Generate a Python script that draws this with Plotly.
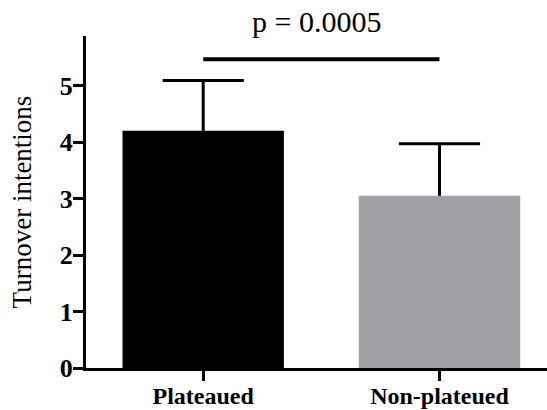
import plotly.graph_objects as go

categories = ["Plateaued", "Non-plateued"]
means = [4.2, 3.05]
errors_up = [0.89, 0.92]
bar_colors = ["#000000", "#a1a0a5"]
sig_y = 5.47
p_label = "p = 0.0005"
y_title = "Turnover intentions"
y_ticks = [0, 1, 2, 3, 4, 5]

FONT = "Liberation Serif, Times New Roman, serif"

fig = go.Figure()
fig.add_trace(go.Bar(
    x=categories, y=means,
    marker=dict(color=bar_colors, line=dict(width=0)),
    error_y=dict(type="data", symmetric=False, array=errors_up,
                 arrayminus=[0] * len(means),
                 color="black", thickness=3, width=0),
    showlegend=False,
))
# error bar caps
fig.add_trace(go.Scatter(
    x=categories, y=[m + e for m, e in zip(means, errors_up)],
    mode="markers",
    marker=dict(symbol="line-ew-open", size=58, color="black",
                line=dict(color="black", width=3)),
    showlegend=False, cliponaxis=False, hoverinfo="skip",
))
fig.add_trace(go.Scatter(
    x=categories, y=[sig_y] * len(categories),
    mode="lines", line=dict(color="black", width=4),
    showlegend=False, cliponaxis=False,
))
fig.add_annotation(
    x=0.48, y=sig_y, xref="x", yref="y",
    text=p_label, showarrow=False, yanchor="bottom", yshift=19,
    font=dict(family=FONT, size=30, color="black"),
)

fig.update_layout(
    width=547, height=410,
    margin=dict(l=86, r=0, t=36, b=42, autoexpand=False),
    paper_bgcolor="white", plot_bgcolor="white",
    bargap=0.317,
    font=dict(family=FONT, color="black"),
    xaxis=dict(
        range=[-0.496, 1.455], automargin=False,
        showline=True, linecolor="black", linewidth=3,
        ticks="outside", ticklen=10, tickwidth=3, tickcolor="black",
        ticklabelstandoff=-6,
        tickfont=dict(family=FONT, size=24, color="black", weight="bold"),
        showgrid=False, zeroline=False,
    ),
    yaxis=dict(
        range=[0, 5.88], automargin=False,
        tickvals=y_ticks,
        showline=True, linecolor="black", linewidth=3,
        ticks="outside", ticklen=10, tickwidth=3, tickcolor="black",
        ticklabelstandoff=-5,
        tickfont=dict(family=FONT, size=26, color="black", weight="bold"),
        showgrid=False, zeroline=False,
        title=dict(text=y_title, font=dict(family=FONT, size=27, color="black"), standoff=21),
    ),
)

fig.write_html("out.html", config={"displayModeBar": False},
               post_script="document.body.style.margin='0';document.body.style.padding='0';")
